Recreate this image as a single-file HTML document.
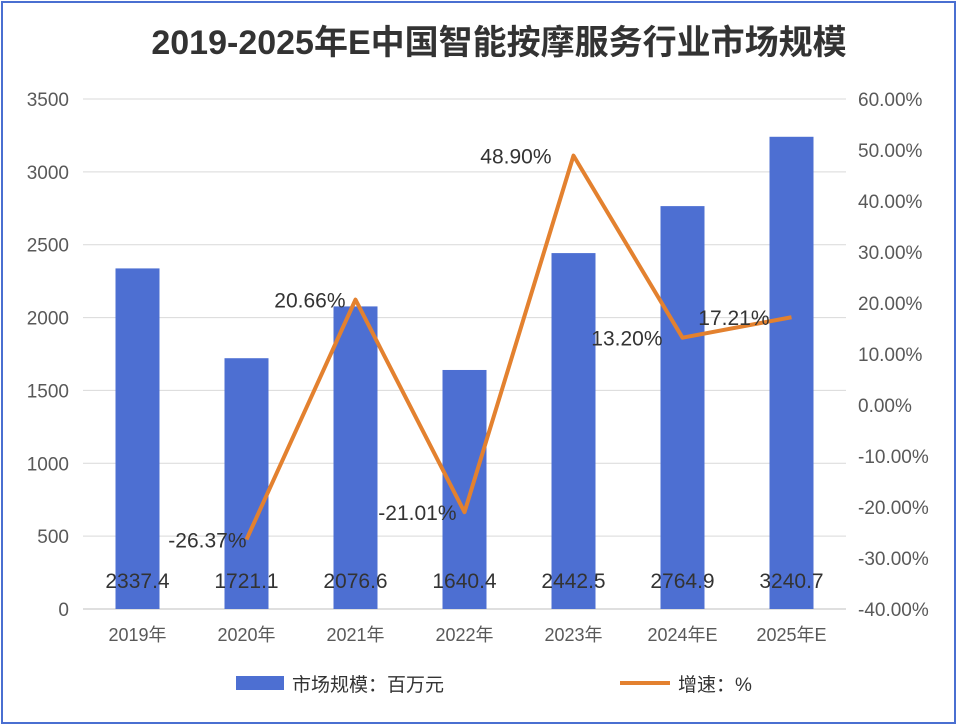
<!DOCTYPE html>
<html><head><meta charset="utf-8">
<style>
body{margin:0;background:#fff;}
#wrap{position:relative;width:957px;height:725px;overflow:hidden;}
#frame{position:absolute;left:1px;top:1px;width:951px;height:719px;border:2px solid #4a6fd1;}
svg text{font-family:"Liberation Sans","Noto Sans CJK SC",sans-serif;}
</style></head>
<body>
<div id="wrap">
<div id="frame"></div>
<svg id="chart" width="957" height="725" style="position:absolute;left:0;top:0">
<text x="499" y="54" text-anchor="middle" font-size="34" font-weight="bold" fill="#333">2019-2025年E中国智能按摩服务行业市场规模</text>
<g id="grid"></g><g id="bars"></g><g id="line"></g><g id="labels"></g>
<g>
<rect x="236" y="676" width="48" height="14" fill="#4d6fd2"/>
<text x="292" y="691" font-size="19" fill="#333">市场规模：百万元</text>
<line x1="620" y1="683" x2="670" y2="683" stroke="#e3812f" stroke-width="4"/>
<text x="678" y="691" font-size="19" fill="#333">增速：%</text>
</g>
</svg>
</div>
<script>
const categories=["2019年","2020年","2021年","2022年","2023年","2024年E","2025年E"];
const marketSize=[2337.4,1721.1,2076.6,1640.4,2442.5,2764.9,3240.7];
const growth=[null,-26.37,20.66,-21.01,48.90,13.20,17.21];
const leftTicks=[0,500,1000,1500,2000,2500,3000,3500];
const rightTicks=[-40,-30,-20,-10,0,10,20,30,40,50,60];
const NS="http://www.w3.org/2000/svg";
const X0=83,X1=846,Y0=609,Y1=99;
const band=(X1-X0)/categories.length;
const xc=i=>X0+band*(i+0.5);
const yL=v=>Y0-(v/3500)*(Y0-Y1);
const yR=v=>Y0-((v+40)/100)*(Y0-Y1);
function mk(t,a,p){const e=document.createElementNS(NS,t);for(const k in a)e.setAttribute(k,a[k]);p.appendChild(e);return e;}
const grid=document.getElementById('grid'),bars=document.getElementById('bars'),line=document.getElementById('line'),labels=document.getElementById('labels');
leftTicks.forEach(v=>{
 const l=mk('line',{x1:X0,x2:X1,y1:yL(v),y2:yL(v),stroke:v===0?'#bfbfbf':'#d9d9d9','stroke-width':1},grid);
 
 
 const t=mk('text',{x:69,y:yL(v)+7,'text-anchor':'end','font-size':19,fill:'#595959'},grid);t.textContent=v;
 
 
});
rightTicks.forEach(v=>{
 const t=mk('text',{x:858,y:yR(v)+7,'font-size':19,fill:'#595959'},grid);t.textContent=v.toFixed(2)+'%';
 
 
});
categories.forEach((c,i)=>{
 const t=mk('text',{x:xc(i),y:641,'text-anchor':'middle','font-size':18,fill:'#595959'},grid);t.textContent=c;
 
 
});
marketSize.forEach((v,i)=>{
 const r=mk('rect',{x:xc(i)-22,y:yL(v),width:44,height:Y0-yL(v),fill:'#4d6fd2'},bars);
 
 
 const t=mk('text',{x:xc(i),y:588,'text-anchor':'middle','font-size':21,fill:'#333'},labels);t.textContent=v.toFixed(1);
 
 
});
let pts=[];
growth.forEach((g,i)=>{if(g!==null)pts.push(xc(i)+','+yR(g));});
const pl=mk('polyline',{points:pts.join(' '),fill:'none',stroke:'#e3812f','stroke-width':4,'stroke-linejoin':'round'},line);


const offs=[0,0,10,8,22,20,22];
growth.forEach((g,i)=>{
 if(g===null)return;
 const t=mk('text',{x:xc(i)-offs[i],y:yR(g)+8,'text-anchor':'end','font-size':21,fill:'#333'},labels);t.textContent=g.toFixed(2)+'%';
 
 
});
</script>
</body></html>
